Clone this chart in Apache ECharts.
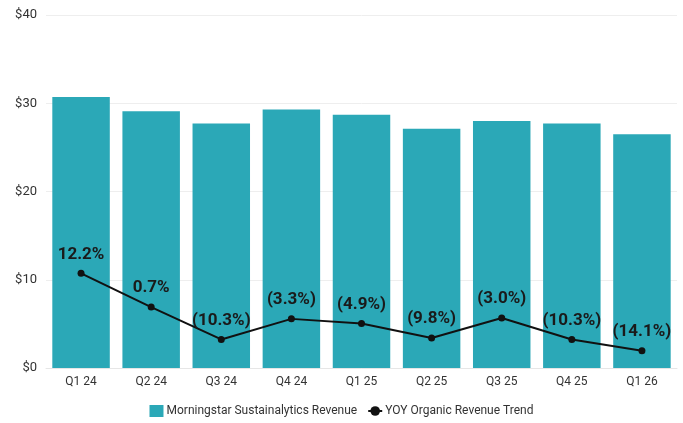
<!DOCTYPE html>
<html>
<head>
<meta charset="utf-8">
<script src="https://cdn.jsdelivr.net/npm/echarts@6/dist/echarts.min.js"></script>
<style>
  html, body { margin: 0; padding: 0; background: #ffffff; }
  #chart { width: 683px; height: 423px; }
</style>
</head>
<body>
<div id="chart"></div>
<script>
// Quarterly categories
const quarters = ['Q1 24', 'Q2 24', 'Q3 24', 'Q4 24', 'Q1 25', 'Q2 25', 'Q3 25', 'Q4 25', 'Q1 26'];
// Morningstar Sustainalytics revenue, $ millions
const revenue = [30.7, 29.1, 27.7, 29.3, 28.7, 27.1, 28.0, 27.7, 26.5];
// Year-over-year organic revenue growth, percent
const yoyGrowth = [12.2, 0.7, -10.3, -3.3, -4.9, -9.8, -3.0, -10.3, -14.1];
// Revenue axis tick values
const revenueTicks = [0, 10, 20, 30, 40];

const barColor = '#2ba8b7';
const textColor = '#333333';
const fontFamily = 'Roboto, "Liberation Sans", sans-serif';

function formatGrowth(v) {
  const s = Math.abs(v).toFixed(1) + '%';
  return v < 0 ? '(' + s + ')' : s;
}

const chart = echarts.init(document.getElementById('chart'), null, { renderer: 'canvas' });

chart.setOption({
  animation: false,
  backgroundColor: '#ffffff',
  grid: { left: 46, right: 6, top: 15, bottom: 55, containLabel: false },
  legend: {
    bottom: 1,
    left: 'center',
    itemGap: 10,
    itemWidth: 14,
    itemHeight: 12,
    textStyle: { color: textColor, fontSize: 12, fontFamily: fontFamily, padding: [0, 0, 0, -2] },
    data: [
      { name: 'Morningstar Sustainalytics Revenue', icon: 'rect', itemStyle: { color: barColor } },
      { name: 'YOY Organic Revenue Trend' }
    ]
  },
  xAxis: {
    type: 'category',
    data: quarters,
    axisLine: { show: true, lineStyle: { color: '#e6e6e6', width: 1 } },
    axisTick: { show: false },
    axisLabel: { color: textColor, fontSize: 12, fontFamily: fontFamily, margin: 8 }
  },
  yAxis: [
    {
      type: 'value',
      min: revenueTicks[0],
      max: revenueTicks[revenueTicks.length - 1],
      interval: 10,
      axisLine: { show: false },
      axisTick: { show: false },
      axisLabel: {
        color: textColor, fontSize: 13, fontFamily: fontFamily, margin: 9,
        formatter: v => '$' + v
      },
      splitLine: { lineStyle: { color: '#eeeeee', width: 1 } }
    },
    {
      // growth scale, kept hidden
      type: 'value',
      min: -20,
      max: 100,
      show: false,
      splitLine: { show: false }
    }
  ],
  series: [
    {
      name: 'Morningstar Sustainalytics Revenue',
      type: 'bar',
      data: revenue,
      barCategoryGap: '18%',
      itemStyle: { color: barColor },
      yAxisIndex: 0
    },
    {
      name: 'YOY Organic Revenue Trend',
      type: 'line',
      yAxisIndex: 1,
      data: yoyGrowth,
      symbol: 'circle',
      symbolSize: 7,
      lineStyle: { color: '#111111', width: 2 },
      itemStyle: { color: '#111111' },
      label: {
        show: true,
        position: 'top',
        distance: 7,
        color: '#1a1a1a',
        fontSize: 17,
        fontWeight: 'bold',
        fontFamily: fontFamily,
        formatter: p => formatGrowth(p.value)
      }
    }
  ]
});
</script>
</body>
</html>
